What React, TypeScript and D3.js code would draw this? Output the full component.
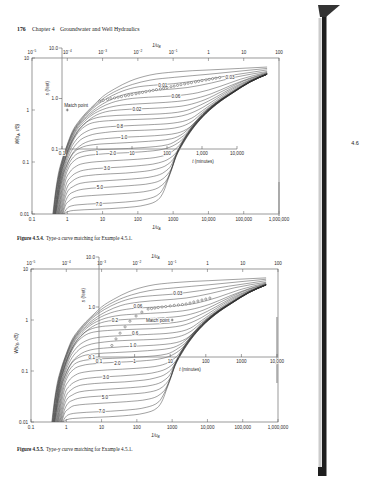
import React from 'react'
import * as d3 from 'd3'

type Pt = [number, number]

// leaky-aquifer type curves, [1/u, W] (same family in both panels)
const c00: Pt[] = [[0.39, 0.01], [0.45, 0.023], [0.55, 0.056], [0.71, 0.11], [0.98, 0.21], [1.36, 0.375], [2.3, 0.65], [3.6, 0.92], [6.1, 1.31], [10, 1.8], [22, 2.55], [60, 3.6], [220, 4.7], [1100, 5.4], [11000, 5.9], [78000, 6.3], [460000, 6.7]]
const c01: Pt[] = [[0.4, 0.01], [0.46, 0.023], [0.57, 0.056], [0.73, 0.11], [1.0, 0.21], [1.4, 0.37], [2.4, 0.64], [3.7, 0.9], [6.4, 1.27], [11, 1.7], [25, 2.35], [70, 3.1], [220, 3.75], [1100, 4.25], [11000, 4.9], [78000, 5.6], [460000, 6.3]]
const c02: Pt[] = [[0.41, 0.01], [0.47, 0.023], [0.58, 0.056], [0.75, 0.11], [1.03, 0.21], [1.45, 0.37], [2.5, 0.63], [3.9, 0.88], [6.7, 1.22], [12, 1.6], [28, 2.15], [80, 2.7], [280, 3.0], [1000, 3.2], [6000, 3.75], [40000, 4.6], [460000, 5.9]]
const c03: Pt[] = [[0.42, 0.01], [0.48, 0.023], [0.6, 0.056], [0.77, 0.11], [1.06, 0.21], [1.5, 0.37], [2.6, 0.62], [4.2, 0.85], [7.5, 1.15], [14, 1.48], [35, 1.92], [120, 2.25], [500, 2.45], [2500, 2.7], [12000, 3.3], [60000, 4.3], [460000, 5.5]]
const c04: Pt[] = [[0.43, 0.01], [0.5, 0.023], [0.61, 0.056], [0.79, 0.11], [1.1, 0.21], [1.55, 0.36], [2.7, 0.6], [4.5, 0.82], [8.5, 1.1], [18, 1.38], [50, 1.62], [200, 1.76], [1200, 1.88], [5000, 2.15], [20000, 2.8], [80000, 3.9], [460000, 5.3]]
const c05: Pt[] = [[0.44, 0.01], [0.51, 0.023], [0.63, 0.056], [0.82, 0.11], [1.13, 0.2], [1.6, 0.35], [2.8, 0.57], [5, 0.8], [10, 1.02], [25, 1.2], [100, 1.31], [600, 1.4], [3000, 1.58], [12000, 2.05], [40000, 2.9], [150000, 4.1], [460000, 5.15]]
const c06: Pt[] = [[0.45, 0.01], [0.52, 0.023], [0.64, 0.055], [0.84, 0.105], [1.16, 0.2], [1.7, 0.33], [3.0, 0.53], [5.5, 0.74], [12, 0.92], [35, 1.01], [94, 1.05], [500, 1.1], [2500, 1.24], [8000, 1.58], [25000, 2.3], [100000, 3.6], [460000, 5.05]]
const c07: Pt[] = [[0.46, 0.01], [0.54, 0.023], [0.66, 0.056], [0.85, 0.11], [1.18, 0.2], [1.7, 0.34], [3, 0.54], [5.5, 0.68], [13, 0.76], [50, 0.8], [400, 0.84], [2000, 0.95], [6000, 1.25], [17000, 1.8], [49000, 2.7], [150000, 3.8], [460000, 4.95]]
const c08: Pt[] = [[0.47, 0.01], [0.55, 0.023], [0.68, 0.055], [0.87, 0.105], [1.2, 0.19], [1.75, 0.32], [3.1, 0.48], [6, 0.58], [20, 0.63], [100, 0.66], [600, 0.7], [2500, 0.82], [6900, 1.12], [17000, 1.65], [49000, 2.55], [150000, 3.7], [460000, 4.92]]
const c09: Pt[] = [[0.48, 0.01], [0.56, 0.023], [0.7, 0.054], [0.9, 0.1], [1.25, 0.18], [1.9, 0.28], [3.6, 0.39], [9, 0.46], [31, 0.49], [200, 0.52], [1000, 0.56], [3400, 0.7], [6900, 0.98], [17000, 1.52], [49000, 2.4], [150000, 3.6], [460000, 4.9]]
const c10: Pt[] = [[0.5, 0.01], [0.58, 0.023], [0.72, 0.053], [0.93, 0.095], [1.3, 0.16], [2, 0.24], [4, 0.32], [12, 0.37], [60, 0.4], [400, 0.42], [1500, 0.47], [3400, 0.6], [6900, 0.9], [17000, 1.44], [49000, 2.3], [150000, 3.55], [460000, 4.9]]
const c11: Pt[] = [[0.52, 0.01], [0.6, 0.023], [0.74, 0.052], [0.96, 0.088], [1.35, 0.14], [2.2, 0.2], [5, 0.26], [15, 0.285], [41, 0.3], [300, 0.32], [1300, 0.36], [3000, 0.47], [6900, 0.85], [17000, 1.4], [49000, 2.24], [150000, 3.53], [460000, 4.9]]
const c12: Pt[] = [[0.54, 0.01], [0.63, 0.023], [0.77, 0.052], [1.0, 0.09], [1.4, 0.14], [2.3, 0.185], [5.5, 0.215], [25, 0.23], [200, 0.25], [900, 0.28], [2000, 0.36], [3400, 0.5], [6900, 0.83], [17000, 1.39], [49000, 2.23], [150000, 3.52], [460000, 4.9]]
const c13: Pt[] = [[0.56, 0.01], [0.66, 0.023], [0.81, 0.05], [1.05, 0.085], [1.5, 0.125], [2.5, 0.155], [6, 0.17], [20, 0.177], [150, 0.19], [700, 0.215], [1500, 0.28], [2500, 0.37], [3400, 0.48], [6900, 0.815], [17000, 1.375], [49000, 2.21], [150000, 3.51], [460000, 4.9]]
const c14: Pt[] = [[0.58, 0.01], [0.69, 0.023], [0.85, 0.048], [1.1, 0.078], [1.6, 0.107], [2.8, 0.128], [7, 0.14], [20, 0.147], [130, 0.157], [550, 0.178], [1200, 0.22], [1900, 0.28], [3400, 0.47], [6900, 0.8], [17000, 1.36], [49000, 2.2], [150000, 3.5], [460000, 4.9]]
const c15: Pt[] = [[0.6, 0.01], [0.72, 0.022], [0.89, 0.044], [1.18, 0.064], [1.8, 0.083], [3.2, 0.095], [15, 0.105], [100, 0.113], [450, 0.128], [950, 0.16], [1500, 0.21], [1900, 0.262], [3400, 0.46], [6900, 0.79], [17000, 1.35], [49000, 2.19], [150000, 3.49], [460000, 4.89]]
const c16: Pt[] = [[0.63, 0.01], [0.76, 0.021], [0.94, 0.038], [1.28, 0.052], [2, 0.064], [4, 0.072], [13, 0.077], [90, 0.084], [380, 0.096], [800, 0.118], [1200, 0.15], [1900, 0.255], [3400, 0.452], [6900, 0.78], [17000, 1.34], [49000, 2.18], [150000, 3.48], [460000, 4.89]]
const c17: Pt[] = [[0.66, 0.01], [0.8, 0.02], [1.0, 0.033], [1.4, 0.043], [2.2, 0.051], [4, 0.055], [10, 0.058], [75, 0.063], [330, 0.073], [700, 0.09], [1000, 0.113], [1200, 0.14], [1900, 0.25], [3400, 0.445], [6900, 0.772], [17000, 1.33], [49000, 2.17], [150000, 3.47], [460000, 4.88]]
const c18: Pt[] = [[0.69, 0.01], [0.84, 0.019], [1.05, 0.028], [1.5, 0.034], [2.4, 0.039], [9, 0.043], [65, 0.047], [280, 0.053], [600, 0.066], [870, 0.085], [1200, 0.137], [1900, 0.245], [3400, 0.438], [6900, 0.765], [17000, 1.32], [49000, 2.16], [150000, 3.46], [460000, 4.88]]
const c19: Pt[] = [[0.72, 0.01], [0.88, 0.017], [1.1, 0.023], [1.6, 0.027], [2.8, 0.03], [8, 0.032], [55, 0.035], [240, 0.039], [520, 0.048], [750, 0.062], [870, 0.072], [1200, 0.133], [1900, 0.24], [3400, 0.432], [6900, 0.757], [17000, 1.31], [49000, 2.15], [150000, 3.45], [460000, 4.87]]
const c20: Pt[] = [[0.75, 0.01], [0.9, 0.015], [1.15, 0.018], [1.7, 0.021], [7, 0.023], [50, 0.025], [210, 0.028], [460, 0.035], [665, 0.046], [870, 0.07], [1200, 0.13], [1900, 0.235], [3400, 0.426], [6900, 0.75], [17000, 1.3], [49000, 2.14], [150000, 3.44], [460000, 4.87]]
const c21: Pt[] = [[0.78, 0.01], [0.95, 0.0125], [1.3, 0.0143], [2, 0.015], [7, 0.0158], [45, 0.017], [190, 0.0195], [420, 0.025], [600, 0.037], [870, 0.068], [1200, 0.127], [1900, 0.23], [3400, 0.42], [6900, 0.743], [17000, 1.29], [49000, 2.13], [150000, 3.43], [460000, 4.86]]
const c22: Pt[] = [[0.8, 0.01], [1.0, 0.011], [1.5, 0.0117], [6, 0.0123], [40, 0.0132], [170, 0.015], [380, 0.019], [550, 0.028], [700, 0.044], [870, 0.066], [1200, 0.124], [1900, 0.225], [3400, 0.414], [6900, 0.736], [17000, 1.28], [49000, 2.12], [150000, 3.42], [460000, 4.86]]
const typeCurves: Pt[][] = [c00, c01, c02, c03, c04, c05, c06, c07, c08, c09, c10, c11, c12, c13, c14, c15, c16, c17, c18, c19, c20, c21, c22]

// main axes
const invUTicks = [0.1, 1, 10, 100, 1000, 10000, 100000, 1000000]
const invUTickLabels = ['0.1', '1', '10', '100', '1000', '10,000', '100,000', '1,000,000']
const invUOtherTicks = [1e-5, 1e-4, 1e-3, 1e-2, 1e-1, 1, 10, 100]
const invUOtherExp = ['\u22125', '\u22124', '\u22123', '\u22122', '\u22121', '', '', '']
const invUOtherPlain = ['', '', '', '', '', '1', '10', '100']
const wTicks = [10, 1, 0.1, 0.01]
const wTickLabels = ['10', '1', '0.1', '0.01']

// field-data sheet laid over the type curves
const timeTicks = [0.1, 1, 10, 100, 1000, 10000]
const timeTickLabelsA = ['0.1', '1', '10', '100', '1,000', '10,000']
const timeTickLabelsB = ['0.1', '1', '10', '100', '1000', '10,000']
const sTicks = [10, 1, 0.1]
const sTickLabels = ['10.0', '1.0', '0.1']

// observed drawdown s (ft) vs t (min)
const obsTimeA = [1.2, 1.5, 2, 2.5, 3.2, 4, 5, 6.5, 8, 10, 13, 16, 20, 25, 32, 40, 50, 65, 80, 100, 130, 160, 200, 250, 320, 400, 500, 650, 800, 1000, 1300, 1600, 2000, 2500, 3200]
const obsDrawA = [0.89, 0.92, 0.96, 0.99, 1.03, 1.06, 1.09, 1.13, 1.16, 1.2, 1.24, 1.28, 1.32, 1.36, 1.41, 1.45, 1.5, 1.55, 1.6, 1.65, 1.71, 1.76, 1.82, 1.88, 1.94, 2.0, 2.06, 2.13, 2.19, 2.26, 2.33, 2.39, 2.46, 2.52, 2.6]
const obsTimeB = [0.23, 0.3, 0.39, 0.54, 0.74, 1.1, 1.6, 2.4, 3.0, 3.7, 4.6, 5.9, 7.5, 10, 13, 17, 22, 28, 36, 46, 60, 78, 100, 130]
const obsDrawB = [0.17, 0.23, 0.3, 0.4, 0.52, 0.66, 0.79, 0.91, 0.93, 0.95, 0.975, 1.0, 1.02, 1.05, 1.08, 1.1, 1.12, 1.15, 1.2, 1.26, 1.32, 1.38, 1.44, 1.51]

// r/B labels written on the curves
const curveLabelsA = ['0.01', '0.06', '0.02', '0.8', '1.0', '2.0', '3.0', '5.0', '7.0', '0.03']
const curveLabelInvUA = [510, 1200, 94, 31, 41, 19.6, 13.3, 8.4, 7.9, 41000]
const curveLabelWA = [3.0, 1.86, 1.05, 0.49, 0.3, 0.149, 0.077, 0.032, 0.0155, 4.3]
const curveLabelsB = ['0.03', '0.06', '0.2', '0.6', '1.0', '2.0', '3.0', '5.0', '7.0']
const curveLabelInvUB = [1450, 107, 24, 89, 78, 28, 13.3, 12.5, 10.2]
const curveLabelWB = [3.4, 1.88, 1.0, 0.556, 0.32, 0.144, 0.076, 0.031, 0.016]

const matchA: Pt = [1, 1]
const matchB: Pt = [1000, 1]

const SANS = 'Liberation Sans, Arial, sans-serif'
const SERIF = 'Liberation Serif, Times New Roman, serif'
const INK = '#2b2b2b'

type Box = { left: number; right: number; top: number; bottom: number }

function Panel(p: {
  id: string
  frame: Box
  sheet: Box
  topSub: string
  bottomSub: string
  ySub: string
  timeLabels: string[]
  obsT: number[]
  obsS: number[]
  labels: string[]
  labelX: number[]
  labelW: number[]
  match: Pt
  matchLeft: boolean
  tTitle: Pt
  sTitle: Pt
  edge: [number, number, number]
}) {
  const f = p.frame
  const s = p.sheet
  const x = d3.scaleLog().domain([0.1, 1e6]).range([f.left, f.right])
  const xTop = d3.scaleLog().domain([1e-5, 100]).range([f.left, f.right])
  const y = d3.scaleLog().domain([0.01, 10]).range([f.bottom, f.top])
  const tx = d3.scaleLog().domain([0.1, 1e4]).range([s.left, s.right])
  const sy = d3.scaleLog().domain([0.1, 10]).range([s.bottom, s.top])
  const line = d3.line<Pt>().x((d) => x(d[0])).y((d) => y(d[1])).curve(d3.curveMonotoneX)
  const fs = 4.6
  const mx = x(p.match[0])
  const my = y(p.match[1])

  return (
    <g fontFamily={SANS} fill={INK}>
      <defs>
        <clipPath id={p.id}>
          <rect x={f.left} y={f.top} width={f.right - f.left} height={f.bottom - f.top} />
        </clipPath>
      </defs>

      {/* type curves */}
      <g clipPath={`url(#${p.id})`}>
        {typeCurves.map((c, i) => (
          <path key={i} d={line(c) ?? ''} fill="none" stroke="#303030" strokeWidth={0.45} />
        ))}
      </g>

      {/* frame + ticks */}
      <rect x={f.left} y={f.top} width={f.right - f.left} height={f.bottom - f.top} fill="none" stroke="#555" strokeWidth={0.6} />
      {invUTicks.map((v, i) => (
        <g key={'b' + i}>
          <line x1={x(v)} x2={x(v)} y1={f.bottom} y2={f.bottom - 3} stroke="#555" strokeWidth={0.5} />
          <text x={x(v)} y={f.bottom + 7} fontSize={fs} textAnchor="middle">{invUTickLabels[i]}</text>
        </g>
      ))}
      {invUOtherTicks.map((v, i) => (
        <g key={'t' + i}>
          <line x1={xTop(v)} x2={xTop(v)} y1={f.top} y2={f.top + 3} stroke="#555" strokeWidth={0.5} />
          <text x={xTop(v)} y={f.top - 4} fontSize={fs} textAnchor="middle">
            {invUOtherExp[i] ? (
              <>
                10<tspan dy={-1.8} fontSize={3.2}>{invUOtherExp[i]}</tspan>
              </>
            ) : (
              invUOtherPlain[i]
            )}
          </text>
        </g>
      ))}
      {wTicks.map((v, i) => (
        <g key={'w' + i}>
          <line x1={f.left} x2={f.left + 3} y1={y(v)} y2={y(v)} stroke="#555" strokeWidth={0.5} />
          <text x={f.left - 3} y={y(v) + 1.7} fontSize={fs} textAnchor="end">{wTickLabels[i]}</text>
        </g>
      ))}
      <text x={(f.left + f.right) / 2 + 1} y={f.top - 11} fontSize={fs} textAnchor="middle" fontStyle="italic">
        1/u<tspan dy={1.2} fontSize={3.3}>{p.topSub}</tspan>
      </text>
      <text x={(f.left + f.right) / 2 + 1} y={f.bottom + 15} fontSize={fs} textAnchor="middle" fontStyle="italic">
        1/u<tspan dy={1.2} fontSize={3.3}>{p.bottomSub}</tspan>
      </text>
      <text transform={`translate(${f.left - 13},${(f.top + f.bottom) / 2 - 2}) rotate(-90)`} fontSize={fs} textAnchor="middle" fontStyle="italic">
        W(u<tspan dy={1.2} fontSize={3.3}>{p.ySub}</tspan>
        <tspan dy={-1.2}>, r/B)</tspan>
      </text>

      {/* data sheet axes */}
      <g stroke="#7a7a7a" strokeWidth={0.75}>
        <line x1={s.left} x2={s.left} y1={s.top} y2={s.bottom} />
        <line x1={s.left} x2={s.right} y1={s.bottom} y2={s.bottom} />
        <line x1={p.edge[0]} x2={p.edge[0]} y1={p.edge[1]} y2={p.edge[2]} strokeWidth={1.3} stroke="#999" />
      </g>
      {sTicks.map((v, i) => (
        <g key={'s' + i}>
          <line x1={s.left - 3.5} x2={s.left} y1={sy(v)} y2={sy(v)} stroke="#444" strokeWidth={0.5} />
          <text x={s.left - 4} y={sy(v) + 1.7} fontSize={fs} textAnchor="end" stroke="#fff" strokeWidth={1.4} paintOrder="stroke">
            {sTickLabels[i]}
          </text>
        </g>
      ))}
      {timeTicks.map((v, i) => (
        <g key={'tt' + i}>
          <line x1={tx(v)} x2={tx(v)} y1={s.bottom} y2={s.bottom - 3} stroke="#444" strokeWidth={0.5} />
          <text x={tx(v)} y={s.bottom + 6} fontSize={fs} textAnchor="middle" stroke="#fff" strokeWidth={1.4} paintOrder="stroke">
            {p.timeLabels[i]}
          </text>
        </g>
      ))}
      <text x={p.tTitle[0]} y={p.tTitle[1]} fontSize={fs} textAnchor="middle" stroke="#fff" strokeWidth={1.4} paintOrder="stroke">
        <tspan fontStyle="italic">t</tspan> (minutes)
      </text>
      <text transform={`translate(${p.sTitle[0]},${p.sTitle[1]}) rotate(-90)`} fontSize={fs} textAnchor="middle" stroke="#fff" strokeWidth={1.4} paintOrder="stroke">
        <tspan fontStyle="italic">s</tspan> (feet)
      </text>

      {/* r/B labels */}
      {p.labels.map((l, i) => (
        <text key={'l' + i} x={x(p.labelX[i])} y={y(p.labelW[i]) + 1.7} fontSize={fs} textAnchor="middle" stroke="#fff" strokeWidth={1.6} paintOrder="stroke">
          {l}
        </text>
      ))}

      {/* observed drawdowns */}
      {p.obsT.map((t, i) => (
        <circle key={'o' + i} cx={tx(t)} cy={sy(p.obsS[i])} r={1.1} fill="#fff" stroke="#222" strokeWidth={0.4} />
      ))}

      {/* match point */}
      <g stroke="#222" strokeWidth={0.5}>
        <line x1={mx - 1.4} x2={mx + 1.4} y1={my} y2={my} />
        <line x1={mx} x2={mx} y1={my - 1.4} y2={my + 1.4} />
      </g>
      <text
        x={p.matchLeft ? mx - 3 : mx - 2.5}
        y={p.matchLeft ? my - 3.2 : my + 2.2}
        fontSize={fs}
        textAnchor={p.matchLeft ? 'start' : 'end'}
        stroke="#fff"
        strokeWidth={1.4}
        paintOrder="stroke"
      >
        Match point
      </text>
    </g>
  )
}

export default function App() {
  return (
    <svg width={370} height={480} style={{ position: 'absolute', left: 0, top: 0, background: '#fff' }}>
      <rect width={370} height={480} fill="#fff" />

      {/* running head */}
      <text y={31} fontFamily={SERIF} fontSize={5.8} fill="#222">
        <tspan x={17} fontWeight="bold">176</tspan>
        <tspan x={32}>Chapter 4</tspan>
        <tspan x={60}>Groundwater and Well Hydraulics</tspan>
      </text>

      <Panel
        id="clipA"
        frame={{ left: 32, right: 279, top: 58, bottom: 214 }}
        sheet={{ left: 62, right: 237, top: 48, bottom: 149 }}
        topSub="B"
        bottomSub="A"
        ySub="A"
        timeLabels={timeTickLabelsA}
        obsT={obsTimeA}
        obsS={obsDrawA}
        labels={curveLabelsA}
        labelX={curveLabelInvUA}
        labelW={curveLabelWA}
        match={matchA}
        matchLeft={true}
        tTitle={[203, 162.5]}
        sTitle={[48.5, 88]}
        edge={[279, 182, 216]}
      />
      <text x={17} y={240} fontFamily={SERIF} fontSize={5.1} fill="#222">
        <tspan fontWeight="bold">Figure 4.5.4.</tspan>
        <tspan dx={2}>Type-a curve matching for Example 4.5.1.</tspan>
      </text>

      <Panel
        id="clipB"
        frame={{ left: 31, right: 278, top: 269, bottom: 422 }}
        sheet={{ left: 99, right: 277, top: 257, bottom: 357 }}
        topSub="A"
        bottomSub="B"
        ySub="B"
        timeLabels={timeTickLabelsB}
        obsT={obsTimeB}
        obsS={obsDrawB}
        labels={curveLabelsB}
        labelX={curveLabelInvUB}
        labelW={curveLabelWB}
        match={matchB}
        matchLeft={false}
        tTitle={[190, 371]}
        sTitle={[85, 295]}
        edge={[277, 317, 383]}
      />
      <text x={17} y={451} fontFamily={SERIF} fontSize={5.1} fill="#222">
        <tspan fontWeight="bold">Figure 4.5.5.</tspan>
        <tspan dx={2}>Type-y curve matching for Example 4.5.1.</tspan>
      </text>

      {/* page-edge thumb tab */}
      <rect x={318.5} y={18} width={3} height={452} fill="#aaa" opacity={0.6} />
      <rect x={322} y={6} width={4.5} height={470} fill="#1e1e1e" />
      <polygon points="318,5 340,5 326,17 320,17" fill="#333" />
      <rect x={318} y={467} width={7} height={9} fill="#1e1e1e" />
      <text x={355} y={145} fontFamily={SANS} fontSize={5.5} textAnchor="middle" fill="#222">4.6</text>
    </svg>
  )
}
